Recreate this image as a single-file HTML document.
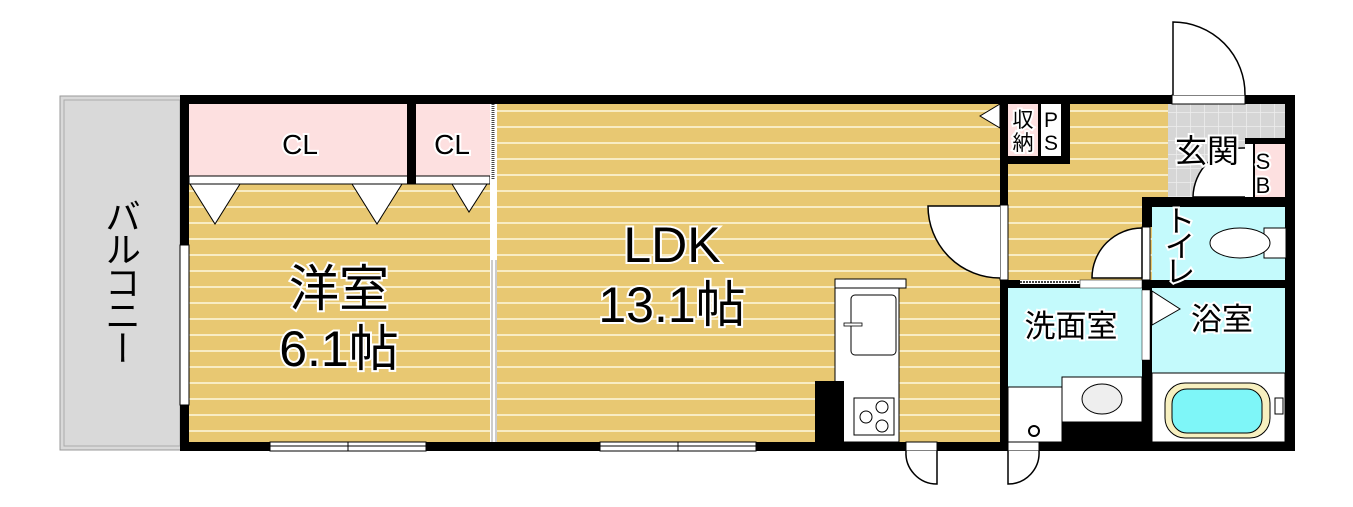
<!DOCTYPE html>
<html><head><meta charset="utf-8"><style>
html,body{margin:0;padding:0;background:#fff;}
svg{display:block;}
text{font-family:"Liberation Sans","Noto Sans CJK JP",sans-serif;fill:#000;stroke:#fff;stroke-width:4;paint-order:stroke;}
#bal{position:absolute;left:100px;top:198px;writing-mode:vertical-rl;font-family:"Liberation Sans","Noto Sans CJK JP",sans-serif;font-size:36px;line-height:40px;color:#000;letter-spacing:-3px;}
</style></head><body>
<svg width="1353" height="507" viewBox="0 0 1353 507" xmlns="http://www.w3.org/2000/svg">
<defs>
<pattern id="fl" width="20" height="16" patternUnits="userSpaceOnUse">
<rect width="20" height="16" fill="#e8c872"/><rect y="14" width="20" height="2" fill="#f8ecc4"/>
</pattern>
<pattern id="tile" width="14" height="14" patternUnits="userSpaceOnUse">
<rect width="14" height="14" fill="#d6d6d6"/><path d="M0 0H14M0 0V14" stroke="#eee" stroke-width="1.5"/>
</pattern>
</defs>
<rect x="60" y="96" width="122" height="354" fill="#d9d9d9" stroke="#999" stroke-width="1"/>
<rect x="64" y="100" width="116" height="346" fill="#d9d9d9" stroke="#aaa" stroke-width="1"/>
<rect x="189" y="184" width="302" height="258" fill="url(#fl)"/>
<rect x="497" y="104" width="505" height="338" fill="url(#fl)"/>
<rect x="1008" y="104" width="160" height="176" fill="url(#fl)"/>
<rect x="1168" y="104" width="118" height="93" fill="url(#tile)"/>
<rect x="1152" y="207" width="134" height="73" fill="#c4fafc"/>
<rect x="1008" y="288" width="134" height="154" fill="#c4fafc"/>
<rect x="1152" y="288" width="134" height="154" fill="#c4fafc"/>
<rect x="189" y="104" width="220" height="72" fill="#fde0e0"/>
<rect x="416" y="104" width="74" height="72" fill="#fde0e0"/>
<rect x="189" y="176" width="301" height="8" fill="#fff" stroke="#000" stroke-width="1"/>
<polygon points="190,184 240,184 215,224" fill="#fff" stroke="#000"/>
<polygon points="352,184 402,184 377,224" fill="#fff" stroke="#000"/>
<polygon points="452,184 487,184 469,212" fill="#fff" stroke="#000"/>
<rect x="490" y="104" width="7" height="338" fill="#fff"/>
<line x1="493" y1="104" x2="493" y2="180" stroke="#444" stroke-width="3" stroke-dasharray="1,1"/>
<line x1="492" y1="260" x2="492" y2="442" stroke="#999" stroke-width="1"/>
<line x1="496" y1="260" x2="496" y2="442" stroke="#999" stroke-width="1"/>
<rect x="180" y="95" width="992" height="9" fill="#000"/>
<rect x="1245" y="95" width="50" height="9" fill="#000"/>
<rect x="180" y="95" width="9" height="356" fill="#000"/>
<rect x="180" y="442" width="1115" height="9" fill="#000"/>
<rect x="1285" y="95" width="10" height="356" fill="#000"/>
<rect x="407" y="104" width="9" height="80" fill="#000"/>
<rect x="1172" y="95" width="73" height="9" fill="#fff" stroke="#000" stroke-width="1"/>
<path d="M1173 95V22A72 72 0 0 1 1245 95" fill="#fff" stroke="#000" stroke-width="1.5"/>
<rect x="180" y="245" width="9" height="160" fill="#fff" stroke="#000" stroke-width="1"/>
<rect x="270" y="442" width="156" height="9" fill="#fff" stroke="#000" stroke-width="1"/>
<line x1="270" y1="446" x2="426" y2="446" stroke="#000"/><line x1="348" y1="442" x2="348" y2="451" stroke="#000"/>
<rect x="600" y="442" width="156" height="9" fill="#fff" stroke="#000" stroke-width="1"/>
<line x1="600" y1="446" x2="756" y2="446" stroke="#000"/><line x1="678" y1="442" x2="678" y2="451" stroke="#000"/>
<rect x="1000" y="104" width="70" height="60" fill="#000"/>
<rect x="1008" y="104" width="30" height="52" fill="#fde0e0"/>
<rect x="1041" y="104" width="20" height="52" fill="#fff"/>
<polygon points="1000,104 1000,128 980,116" fill="#fff" stroke="#000"/>
<text x="1023" y="127" font-size="21" text-anchor="middle" stroke-width="3">収</text>
<text x="1023" y="150" font-size="21" text-anchor="middle" stroke-width="3">納</text>
<text x="1051" y="127" font-size="21" text-anchor="middle" stroke-width="3">P</text>
<text x="1051" y="150" font-size="21" text-anchor="middle" stroke-width="3">S</text>
<rect x="1000" y="164" width="8" height="41" fill="#000"/>
<rect x="1000" y="205" width="8" height="75" fill="#fff" stroke="#000" stroke-width="1"/>
<path d="M1000 206H928A72 72 0 0 0 1000 278" fill="#fff" stroke="#000" stroke-width="1.5"/>
<rect x="1000" y="280" width="8" height="171" fill="#000"/>
<rect x="1245" y="138" width="41" height="60" fill="#000"/>
<rect x="1255" y="144" width="30" height="53" fill="#fde0e0"/>
<rect x="1245" y="144" width="8" height="53" fill="#fff"/>
<text x="1263" y="169" font-size="22" text-anchor="middle" stroke-width="3">S</text>
<text x="1263" y="193" font-size="22" text-anchor="middle" stroke-width="3">B</text>
<path d="M1245 197H1193A50 50 0 0 1 1245 148" fill="#fff" stroke="#000" stroke-width="1.5"/>
<text x="1207" y="162" font-size="32" text-anchor="middle">玄関</text>
<rect x="1142" y="197" width="153" height="10" fill="#000"/>
<rect x="1142" y="197" width="10" height="30" fill="#000"/>
<rect x="1142" y="227" width="8" height="53" fill="#fff" stroke="#000" stroke-width="1"/>
<path d="M1142 228A50 50 0 0 0 1092 278H1142Z" fill="#fff" stroke="#000" stroke-width="1.5"/>
<rect x="1000" y="280" width="295" height="8" fill="#000"/>
<rect x="1020" y="280" width="70" height="4" fill="#fff"/>
<line x1="1020" y1="282" x2="1080" y2="282" stroke="#444" stroke-width="2" stroke-dasharray="2,1"/>
<rect x="1080" y="280" width="62" height="8" fill="#fff" stroke="#000" stroke-width="0.5"/>
<rect x="1264" y="228" width="22" height="30" fill="#fff" stroke="#000"/>
<ellipse cx="1240" cy="243" rx="30" ry="15" fill="#fff" stroke="#000"/>
<text x="1180" y="232" font-size="30" text-anchor="middle">ト</text>
<text x="1180" y="257" font-size="30" text-anchor="middle">イ</text>
<text x="1180" y="282" font-size="30" text-anchor="middle">レ</text>
<rect x="1142" y="288" width="10" height="154" fill="#000"/>
<rect x="1142" y="290" width="8" height="70" fill="#fff" stroke="#000" stroke-width="0.5"/>
<polygon points="1152,291 1180,309 1152,325" fill="#fff" stroke="#000"/>
<text x="1222" y="330" font-size="31" text-anchor="middle">浴室</text>
<text x="1071" y="337" font-size="31" text-anchor="middle">洗面室</text>
<rect x="1152" y="373" width="133" height="69" fill="#fff" stroke="#000"/>
<rect x="1165" y="383" width="105" height="55" rx="20" fill="#f7f0c0" stroke="#000"/>
<rect x="1172" y="389" width="90" height="44" rx="15" fill="#7ef6f8" stroke="#000"/>
<rect x="1275" y="398" width="8" height="16" fill="#fff" stroke="#000"/>
<rect x="1062" y="377" width="80" height="45" fill="#fff" stroke="#000"/>
<ellipse cx="1102" cy="399" rx="20" ry="15" fill="#eee" stroke="#000"/>
<rect x="1008" y="387" width="54" height="55" fill="#fff" stroke="#000"/>
<rect x="1062" y="422" width="80" height="20" fill="#000"/>
<circle cx="1034" cy="431" r="5" fill="#fff" stroke="#000" stroke-width="2"/>
<rect x="906" y="442" width="31" height="9" fill="#fff" stroke="#000" stroke-width="1"/>
<path d="M937 451V484A31 31 0 0 1 906 451" fill="#fff" stroke="#000" stroke-width="1.5"/>
<rect x="1008" y="442" width="31" height="9" fill="#fff" stroke="#000" stroke-width="1"/>
<path d="M1008 451V484A31 31 0 0 0 1039 451" fill="#fff" stroke="#000" stroke-width="1.5"/>
<rect x="835" y="279" width="71" height="9" fill="#fff" stroke="#000"/>
<rect x="835" y="288" width="64" height="154" fill="#fff" stroke="#000"/>
<rect x="851" y="295" width="45" height="60" rx="4" fill="#fff" stroke="#000"/>
<rect x="844" y="323" width="18" height="3" fill="#fff" stroke="#000" stroke-width="0.8"/>
<rect x="854" y="398" width="40" height="37" fill="#fff" stroke="#000"/>
<circle cx="866" cy="417" r="6" fill="#fff" stroke="#000"/>
<circle cx="882" cy="407" r="6" fill="#fff" stroke="#000"/>
<circle cx="882" cy="426" r="6" fill="#fff" stroke="#000"/>
<rect x="815" y="381" width="29" height="70" fill="#000"/>
<text x="300" y="154" font-size="28" text-anchor="middle">CL</text>
<text x="452" y="154" font-size="28" text-anchor="middle">CL</text>
<text x="339" y="306" font-size="50" text-anchor="middle">洋室</text>
<text x="339" y="366" font-size="50" text-anchor="middle">6.1帖</text>
<text x="672" y="262" font-size="50" text-anchor="middle">LDK</text>
<text x="672" y="322" font-size="50" text-anchor="middle">13.1帖</text>
</svg>
<div id="bal">バルコニー</div>
</body></html>
